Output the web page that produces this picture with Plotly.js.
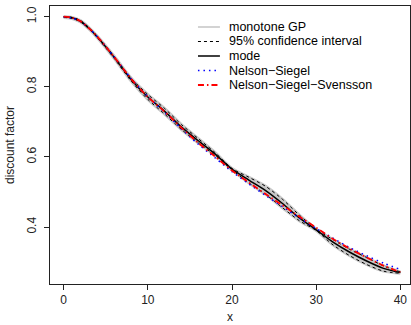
<!DOCTYPE html>
<html><head><meta charset="utf-8">
<script src="https://cdn.plot.ly/plotly-3.0.1.min.js"></script>
<style>html,body{margin:0;padding:0;background:#fff}#chart{width:411px;height:325px}</style>
</head><body><div id="chart"></div>
<script>
const xs      = [0, 1, 2, 3, 4, 6, 8, 10, 12, 14, 16, 18, 20, 22, 24, 26, 28, 30, 32, 34, 36, 38, 40];
const modeY   = [1.000, 0.997, 0.987, 0.967, 0.942, 0.884, 0.821, 0.771, 0.730, 0.685, 0.646, 0.608, 0.565, 0.534, 0.504, 0.467, 0.426, 0.392, 0.357, 0.328, 0.303, 0.282, 0.270];
const ciLow   = [0.998, 0.995, 0.985, 0.965, 0.940, 0.881, 0.817, 0.764, 0.722, 0.678, 0.640, 0.604, 0.563, 0.526, 0.493, 0.455, 0.418, 0.390, 0.349, 0.318, 0.293, 0.274, 0.268];
const ciHigh  = [1.000, 0.998, 0.989, 0.969, 0.944, 0.887, 0.825, 0.778, 0.738, 0.692, 0.652, 0.612, 0.567, 0.542, 0.516, 0.479, 0.434, 0.394, 0.364, 0.336, 0.313, 0.289, 0.272];
const nsY     = [1.000, 0.996, 0.986, 0.967, 0.943, 0.885, 0.824, 0.772, 0.727, 0.680, 0.636, 0.597, 0.558, 0.523, 0.490, 0.458, 0.426, 0.396, 0.368, 0.341, 0.318, 0.297, 0.279];
const nssY    = [1.000, 0.997, 0.987, 0.967, 0.943, 0.885, 0.823, 0.771, 0.729, 0.683, 0.640, 0.601, 0.561, 0.527, 0.494, 0.462, 0.430, 0.398, 0.366, 0.338, 0.313, 0.290, 0.271];
const xTicks  = [0, 10, 20, 30, 40];
const yTicks  = [0.4, 0.6, 0.8, 1.0];
const yTickText = ['0.4', '0.6', '0.8', '1.0'];
const legendLabels = ['monotone GP', '95% confidence interval', 'mode', 'Nelson\u2212Siegel', 'Nelson\u2212Siegel\u2212Svensson'];

const GRAY = 'rgb(200,200,200)';
const traces = [
  {x: xs, y: ciLow, mode: 'lines', line: {color: GRAY, width: 3, shape: 'spline', smoothing: 0.8}, showlegend: false, hoverinfo: 'skip'},
  {x: xs, y: ciHigh, mode: 'lines', fill: 'tonexty', fillcolor: GRAY, line: {color: GRAY, width: 3, shape: 'spline', smoothing: 0.8}, showlegend: false, hoverinfo: 'skip'},
  {x: xs, y: ciLow, mode: 'lines', line: {color: 'black', width: 1, dash: '3px,3px', shape: 'spline', smoothing: 0.8}, showlegend: false},
  {x: xs, y: ciHigh, mode: 'lines', line: {color: 'black', width: 1, dash: '3px,3px', shape: 'spline', smoothing: 0.8}, showlegend: false},
  {x: xs, y: modeY, mode: 'lines', line: {color: 'black', width: 1.5, shape: 'spline', smoothing: 0.8}, showlegend: false},
  {x: xs, y: nsY, mode: 'lines', line: {color: 'blue', width: 1.5, dash: '1.5px,4px', shape: 'spline', smoothing: 0.8}, showlegend: false},
  {x: xs, y: nssY, mode: 'lines', line: {color: 'red', width: 1.8, dash: '6px,3px,1.5px,3px', shape: 'spline', smoothing: 0.8}, showlegend: false}
];

// manual legend (paper coords); plot area spans pixel y 6..284
const rowsPx = [27, 41.5, 56, 70.5, 85];
const legStyles = [
  {color: 'rgb(211,211,211)', width: 2, dash: 'solid'},
  {color: 'black', width: 1, dash: '3px,3px'},
  {color: 'black', width: 1.5, dash: 'solid'},
  {color: 'blue', width: 1.5, dash: '1.5px,4px'},
  {color: 'red', width: 1.8, dash: '6px,3px,1.5px,3px'}
];
const shapes = [];
const annotations = [];
for (let i = 0; i < legendLabels.length; i++) {
  const yp = (284 - rowsPx[i]) / 278;
  shapes.push({type: 'line', xref: 'paper', yref: 'paper', x0: 0.411, x1: 0.472, y0: yp, y1: yp, line: legStyles[i]});
  annotations.push({xref: 'paper', yref: 'paper', x: 0.495, y: yp, xanchor: 'left', yanchor: 'middle',
    text: legendLabels[i], showarrow: false, borderpad: 0,
    font: {size: 12.5, color: 'black', family: 'Liberation Sans, Arial, sans-serif'}});
}

const axisCommon = {
  showline: true, mirror: true, linecolor: '#222', linewidth: 1,
  ticks: 'outside', ticklen: 5, tickcolor: '#222', tickwidth: 1,
  showgrid: false, zeroline: false,
  tickfont: {size: 12, color: '#222', family: 'Liberation Sans, Arial, sans-serif'}
};

const layout = {
  width: 411, height: 325,
  margin: {l: 50, r: 1, t: 6, b: 41},
  paper_bgcolor: 'white', plot_bgcolor: 'white',
  showlegend: false,
  xaxis: Object.assign({}, axisCommon, {
    range: [-1.628, 41.15], tickvals: xTicks, ticktext: xTicks.map(String),
    title: {text: 'x', font: {size: 12, color: '#222', family: 'Liberation Sans, Arial, sans-serif'}, standoff: 6}
  }),
  yaxis: Object.assign({}, axisCommon, {
    range: [0.2374, 1.0305], tickvals: yTicks, ticktext: yTickText, tickangle: -90,
    ticklabelstandoff: 3,
    title: {text: 'discount factor', font: {size: 12, color: '#222', family: 'Liberation Sans, Arial, sans-serif'}, standoff: 8}
  }),
  shapes: shapes,
  annotations: annotations
};

Plotly.newPlot('chart', traces, layout, {staticPlot: true, displayModeBar: false});
</script></body></html>
